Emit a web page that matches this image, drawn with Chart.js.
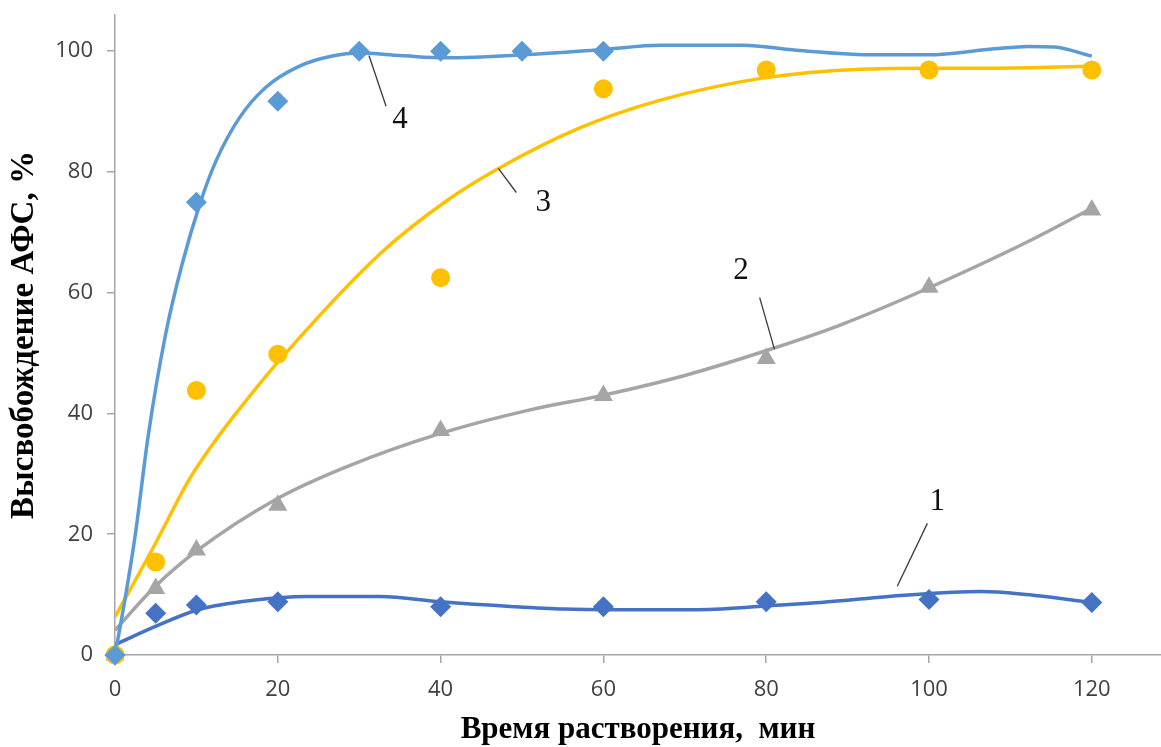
<!DOCTYPE html>
<html>
<head>
<meta charset="utf-8">
<script src="https://cdn.jsdelivr.net/npm/chart.js@4/dist/chart.umd.min.js"></script>
<style>
  html, body { margin: 0; padding: 0; background: #fff; overflow: hidden; }
</style>
</head>
<body>
<canvas id="release" width="1172" height="747"></canvas>
<script>
// measured points (time, min / release, %)
const time1 = [0, 5, 10, 20, 40, 60, 80, 100, 120];
const rel1 = [0, 6.9, 8.3, 8.8, 8.0, 8.0, 8.8, 9.2, 8.7];
const time2 = [0, 5, 10, 20, 40, 60, 80, 100, 120];
const rel2 = [0, 11.0, 17.4, 24.8, 37.2, 43.0, 49.1, 60.9, 73.7];
const time3 = [0, 5, 10, 20, 40, 60, 80, 100, 120];
const rel3 = [0, 15.4, 43.8, 49.8, 62.5, 93.8, 96.9, 96.9, 96.9];
const time4 = [0, 10, 20, 30, 40, 50, 60];
const rel4 = [0, 75.0, 91.7, 100, 100, 100, 100];

// trend curves
const trend1X = [0, 4.9, 10.2, 17.2, 23.4, 32.6, 40, 49, 55.1, 61.3, 71.6, 81.8, 86.7, 97, 106.4, 111.3, 120];
const trend1Y = [1.7, 4.7, 7.5, 9.1, 9.7, 9.7, 8.8, 8.0, 7.6, 7.5, 7.5, 8.3, 8.7, 9.9, 10.5, 10.1, 8.7];
const trend2X = [0, 4.9, 10.2, 19.8, 28.5, 40, 51, 59.9, 70, 80.9, 89, 99.8, 112.5, 120];
const trend2Y = [4.1, 11.3, 17.4, 25.8, 31.2, 36.7, 40.6, 43.0, 46.3, 50.8, 54.6, 60.7, 68.7, 74.0];
const trend3X = [0, 4.9, 9, 12, 15.2, 20.2, 32.6, 40.7, 47, 57.1, 67, 79.3, 89.6, 99.9, 108, 120];
const trend3Y = [6.3, 18.3, 28.8, 34.9, 40.6, 48.8, 66.5, 75.2, 80.5, 87.3, 91.9, 95.5, 96.9, 97.2, 97.2, 97.5];
const trend4X = [0, 1.2, 2.5, 4.1, 6.2, 8.2, 10.5, 12.4, 15.3, 18.5, 22.6, 26.7, 30, 35, 40.7, 50.1, 60, 67, 77.2, 83.4, 93.7, 99.9, 108, 112.2, 115.4, 120];
const trend4Y = [0, 9, 20, 36.5, 53, 64.5, 75, 81.8, 89, 94, 97.5, 99.2, 99.7, 99.3, 98.9, 99.4, 100.3, 101, 101, 100.2, 99.4, 99.4, 100.4, 100.8, 100.7, 99.2];

// curve numbers with leader lines
const calloutText = ["1", "2", "3", "4"];
const calloutTextX = [101.0, 76.9, 52.6, 35.0];
const calloutTextY = [25.3, 63.7, 74.9, 88.7];
const leaderFromX = [99.8, 79.2, 47.1, 31.2];
const leaderFromY = [21.8, 59.2, 80.6, 99.3];
const leaderToX = [96.1, 81.0, 49.3, 33.3];
const leaderToY = [11.4, 50.7, 76.6, 90.9];

const xTicks = [0, 20, 40, 60, 80, 100, 120];
const yTicks = [0, 20, 40, 60, 80, 100];

function pts(xs, ys) {
    return xs.map((v, i) => ({ x: v, y: ys[i] }));
}

function markers(xs, ys, color, style, r) {
    return {
        type: "scatter",
        data: pts(xs, ys),
        pointStyle: style,
        pointRadius: r,
        pointBackgroundColor: color,
        pointBorderColor: color,
        pointBorderWidth: 0,
        showLine: false,
        clip: false
    };
}

function trend(xs, ys, color) {
    return {
        type: "line",
        data: pts(xs, ys),
        borderColor: color,
        borderWidth: 3.5,
        pointRadius: 0,
        cubicInterpolationMode: "monotone",
        fill: false
    };
}

const calloutPlugin = {
    id: "callouts",
    afterDatasetsDraw(chart) {
        const { ctx, scales: { x, y } } = chart;
        ctx.save();
        ctx.strokeStyle = "#3a3a3a";
        ctx.lineWidth = 1.3;
        ctx.fillStyle = "#111";
        ctx.font = "31px 'Liberation Serif'";
        ctx.textAlign = "center";
        ctx.textBaseline = "middle";
        calloutText.forEach((t, i) => {
            ctx.beginPath();
            ctx.moveTo(x.getPixelForValue(leaderFromX[i]), y.getPixelForValue(leaderFromY[i]));
            ctx.lineTo(x.getPixelForValue(leaderToX[i]), y.getPixelForValue(leaderToY[i]));
            ctx.stroke();
            ctx.fillText(t, x.getPixelForValue(calloutTextX[i]), y.getPixelForValue(calloutTextY[i]));
        });
        ctx.restore();
    }
};

const axisGray = "#A6A6A6";
const tickFont = { family: "'Open Sans'", size: 22 };

let releaseChart = new Chart(document.getElementById("release"), {
    data: {
        datasets: [
            markers(time4, rel4, "#5B9BD5", "rectRot", 10.5),
            markers(time3, rel3, "#FFC000", "circle", 9.5),
            markers(time2, rel2, "#A5A5A5", "triangle", 11),
            markers(time1, rel1, "#4472C4", "rectRot", 10.5),
            trend(trend4X, trend4Y, "#5B9BD5"),
            trend(trend3X, trend3Y, "#FFC000"),
            trend(trend2X, trend2Y, "#A5A5A5"),
            trend(trend1X, trend1Y, "#4472C4")
        ]
    },
    options: {
        responsive: false,
        animation: false,
        layout: { padding: { top: 15, right: 1, left: 0, bottom: 0 } },
        plugins: {
            legend: { display: false },
            tooltip: { enabled: false }
        },
        scales: {
            x: {
                type: "linear",
                min: 0,
                max: 128.5,
                afterBuildTicks: s => { s.ticks = xTicks.map(v => ({ value: v })); },
                afterFit: s => { s.height = 92; s.paddingLeft = 0; s.paddingRight = 0; },
                ticks: { font: tickFont, color: "#404040", padding: 14 },
                grid: { drawOnChartArea: false, tickLength: 8, color: axisGray, lineWidth: 1.5 },
                border: { color: axisGray, width: 1.5 },
                title: {
                    display: true,
                    text: "Время растворения,  мин",
                    font: { family: "'Liberation Serif'", size: 31, weight: "bold", lineHeight: 1.1 },
                    color: "#000",
                    padding: { top: 0, bottom: 0 }
                }
            },
            y: {
                min: 0,
                max: 106,
                afterBuildTicks: s => { s.ticks = yTicks.map(v => ({ value: v })); },
                afterFit: s => { s.width = 115; s.paddingTop = 0; s.paddingBottom = 0; },
                ticks: { font: tickFont, color: "#404040", padding: 14 },
                grid: { drawOnChartArea: false, tickLength: 8, color: axisGray, lineWidth: 1.5 },
                border: { color: axisGray, width: 1.5 },
                title: {
                    display: true,
                    text: "Высвобождение АФС, %",
                    font: { family: "'Liberation Serif'", size: 33, weight: "bold", lineHeight: 1.1 },
                    color: "#000",
                    padding: { top: 6, bottom: 0 }
                }
            }
        }
    },
    plugins: [calloutPlugin]
});
</script>
</body>
</html>
